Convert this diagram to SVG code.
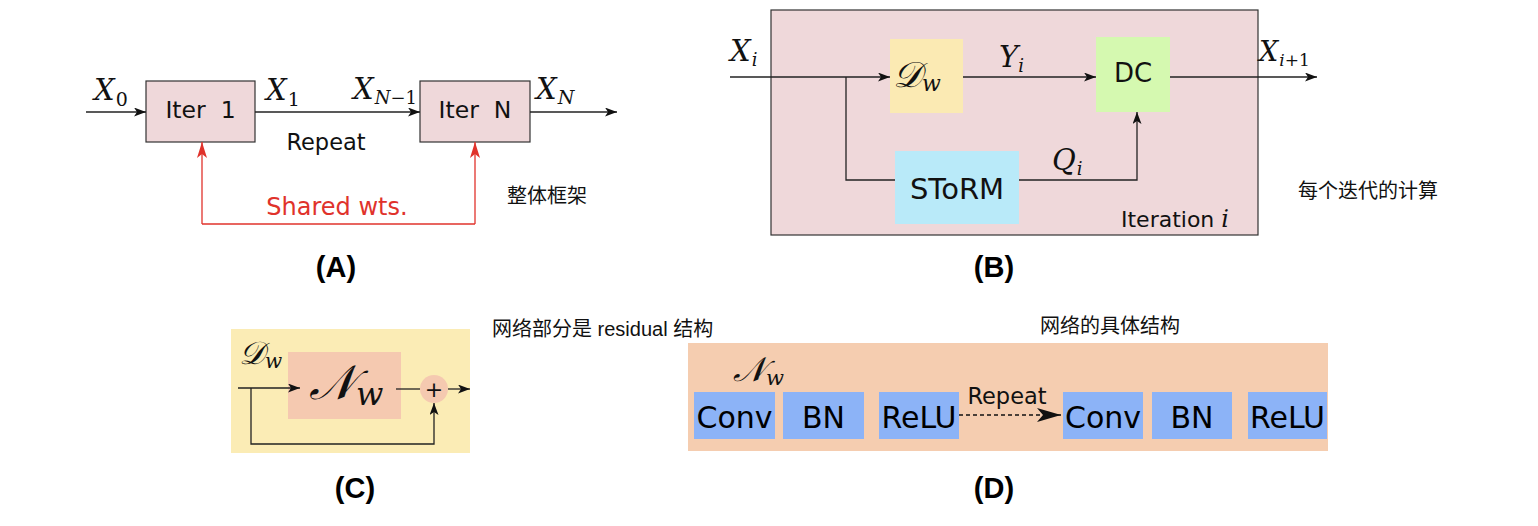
<svg xmlns="http://www.w3.org/2000/svg" width="1538" height="526" viewBox="0 0 1538 526">
<defs>
<style>
.box{stroke:#333;stroke-width:1.2}
.pink{fill:#efd8da}
.ln{fill:none;stroke:#222;stroke-width:1.3}
.red{fill:none;stroke:#e0322b;stroke-width:1.3}
.sans{font-family:'DejaVu Sans','Liberation Sans',sans-serif;fill:#111}
.math{font-family:'DejaVu Serif','Liberation Serif',serif;font-style:italic;fill:#111}
.up{font-family:'DejaVu Serif','Liberation Serif',serif;font-style:normal;fill:#111}
.cal{font-family:'DejaVu Serif','Liberation Serif','Noto Sans',serif;fill:#111}
.cjk{font-family:'Liberation Sans','Noto Sans CJK SC',sans-serif;font-size:20px;fill:#111}
.lbl{font-family:'Liberation Sans',Arial,sans-serif;font-weight:bold;font-size:29px;fill:#000;text-anchor:middle}
.blue{fill:#8cb3f7}
.bt{font-family:'DejaVu Sans','Liberation Sans',sans-serif;font-size:30px;fill:#000;text-anchor:middle}
</style>
<marker id="arr" markerUnits="userSpaceOnUse" markerWidth="14" markerHeight="10" refX="12" refY="4.5" orient="auto">
<path d="M0,0 L12,4.5 L0,9 L3,4.5 z" fill="#111"/>
</marker>
<marker id="arrR" markerUnits="userSpaceOnUse" markerWidth="18" markerHeight="12" refX="16" refY="5" orient="auto">
<path d="M0,0 L16,5 L0,10 L4,5 z" fill="#e0322b"/>
</marker>
<marker id="arrBig" markerUnits="userSpaceOnUse" markerWidth="26" markerHeight="16" refX="24" refY="7" orient="auto">
<path d="M0,0 L24,7 L0,14 L6,7 z" fill="#111"/>
</marker>
</defs>
<rect width="1538" height="526" fill="#fff"/>

<!-- ===== Panel A ===== -->
<g id="A-iter1">
<rect class="box pink" x="146" y="81" width="109" height="61"/>
<text class="sans" x="200.5" y="118" font-size="23.5" text-anchor="middle" xml:space="preserve">Iter  1</text>
</g>
<g id="A-iterN">
<rect class="box pink" x="420" y="81" width="110" height="61"/>
<text class="sans" x="475" y="118" font-size="23.5" text-anchor="middle" xml:space="preserve">Iter  N</text>
</g>
<g id="A-connectors">
<line class="ln" x1="86" y1="112" x2="146" y2="112" marker-end="url(#arr)"/>
<line class="ln" x1="255" y1="112" x2="420" y2="112" marker-end="url(#arr)"/>
<line class="ln" x1="530" y1="112" x2="617" y2="112" marker-end="url(#arr)"/>
<polyline class="red" points="202,224 475,224"/>
<line class="red" x1="202" y1="224" x2="202" y2="142" marker-end="url(#arrR)"/>
<line class="red" x1="475" y1="224" x2="475" y2="142" marker-end="url(#arrR)"/>
</g>
<g id="A-labels">
<text class="math" x="94" y="100" font-size="29">X<tspan class="up" dx="1" dy="6" font-size="19">0</tspan></text>
<text class="math" x="266" y="100" font-size="29">X<tspan class="up" dx="1" dy="6" font-size="19">1</tspan></text>
<text class="math" x="353" y="99" font-size="29">X<tspan dx="1" dy="5" font-size="18">N</tspan><tspan class="up" font-size="18">−1</tspan></text>
<text class="math" x="536" y="99" font-size="29">X<tspan dx="1" dy="5" font-size="19">N</tspan></text>
<text class="sans" x="326" y="150" font-size="22.5" text-anchor="middle">Repeat</text>
<text class="sans" x="337" y="215" font-size="24" text-anchor="middle" style="fill:#e0322b">Shared wts.</text>
<text class="cjk" x="507" y="203">整体框架</text>
<text class="lbl" x="336" y="277">(A)</text>
</g>

<!-- ===== Panel B ===== -->
<g id="B-frame">
<rect class="box pink" x="771" y="10" width="487" height="225"/>
<text class="sans" x="1121" y="227" font-size="22">Iteration <tspan class="math" font-size="24">i</tspan></text>
</g>
<g id="B-Dw">
<rect x="890" y="39" width="73" height="74" fill="#fbeab3"/>
<text class="cal" x="893" y="87" font-size="36" font-style="italic">𝒟<tspan class="math" dx="0" dy="4" font-size="22">w</tspan></text>
</g>
<g id="B-DC">
<rect x="1096" y="37" width="74" height="75" fill="#d5f9b0"/>
<text class="sans" x="1133" y="82" font-size="26" text-anchor="middle">DC</text>
</g>
<g id="B-STORM">
<rect x="895" y="151" width="124" height="73" fill="#b9eaf9"/>
<text class="sans" x="957" y="199" font-size="29" text-anchor="middle">SToRM</text>
</g>
<g id="B-connectors">
<line class="ln" x1="730" y1="77" x2="890" y2="77" marker-end="url(#arr)"/>
<polyline class="ln" points="846,77 846,180 895,180"/>
<line class="ln" x1="963" y1="77" x2="1096" y2="77" marker-end="url(#arr)"/>
<line class="ln" x1="1170" y1="77" x2="1317" y2="77" marker-end="url(#arr)"/>
<polyline class="ln" points="1019,180 1137,180 1137,112" marker-end="url(#arr)"/>
</g>
<g id="B-labels">
<text class="math" x="730" y="61" font-size="29">X<tspan dx="1" dy="5" font-size="18">i</tspan></text>
<text class="math" x="999" y="67" font-size="29">Y<tspan dx="0" dy="5" font-size="18">i</tspan></text>
<text class="math" x="1052" y="170" font-size="29">Q<tspan dx="1" dy="5" font-size="18">i</tspan></text>
<text class="math" x="1259" y="61" font-size="27">X<tspan dx="1" dy="5" font-size="17">i</tspan><tspan class="up" font-size="17">+1</tspan></text>
<text class="cjk" x="1298" y="198">每个迭代的计算</text>
<text class="lbl" x="994" y="277">(B)</text>
</g>

<!-- ===== Panel C ===== -->
<g id="C-frame">
<rect x="231" y="329" width="239" height="124" fill="#fbecb5"/>
<text class="cal" x="239" y="364" font-size="32" font-style="italic">𝒟<tspan class="math" dx="0" dy="4" font-size="20">w</tspan></text>
</g>
<g id="C-Nw">
<rect x="288" y="352" width="113" height="67" fill="#f5c9b0"/>
<text class="cal" x="309" y="399" font-size="48" font-style="italic">𝒩<tspan class="math" dx="1" dy="6" font-size="32">w</tspan></text>
</g>
<g id="C-sum">
<circle cx="434" cy="389" r="14" fill="#f5c9b0"/>
<text class="sans" x="434" y="397" font-size="22" text-anchor="middle">+</text>
</g>
<g id="C-connectors">
<line class="ln" x1="238" y1="388" x2="300" y2="388" marker-end="url(#arr)"/>
<polyline class="ln" points="251,388 251,444 434,444 434,403" marker-end="url(#arr)"/>
<line class="ln" x1="396" y1="389" x2="420" y2="389"/>
<line class="ln" x1="448" y1="389" x2="470" y2="389" marker-end="url(#arr)"/>
</g>
<g id="C-labels">
<text class="cjk" x="492" y="336">网络部分是 residual 结构</text>
<text class="lbl" x="355" y="498">(C)</text>
</g>

<!-- ===== Panel D ===== -->
<g id="D-frame">
<rect x="688" y="343" width="640" height="108" fill="#f5cdb0"/>
<text class="cal" x="733" y="381" font-size="34" font-style="italic">𝒩<tspan class="math" dx="0" dy="4" font-size="21">w</tspan></text>
</g>
<g id="D-conv1"><rect class="blue" x="694" y="392" width="81" height="47"/><text class="bt" x="734.5" y="428">Conv</text></g>
<g id="D-bn1"><rect class="blue" x="783" y="392" width="81" height="47"/><text class="bt" x="823.5" y="428">BN</text></g>
<g id="D-relu1"><rect class="blue" x="879" y="392" width="80" height="47"/><text class="bt" x="919" y="428">ReLU</text></g>
<g id="D-conv2"><rect class="blue" x="1063" y="392" width="80" height="47"/><text class="bt" x="1103" y="428">Conv</text></g>
<g id="D-bn2"><rect class="blue" x="1152" y="392" width="80" height="47"/><text class="bt" x="1192" y="428">BN</text></g>
<g id="D-relu2"><rect class="blue" x="1248" y="392" width="79" height="47"/><text class="bt" x="1287.5" y="428">ReLU</text></g>
<g id="D-connectors">
<line x1="959" y1="415" x2="1061" y2="415" stroke="#111" stroke-width="1.3" stroke-dasharray="4,3" marker-end="url(#arrBig)"/>
</g>
<g id="D-labels">
<text class="sans" x="1007" y="404" font-size="22.5" text-anchor="middle">Repeat</text>
<text class="cjk" x="1040" y="333">网络的具体结构</text>
<text class="lbl" x="994" y="498">(D)</text>
</g>
</svg>
